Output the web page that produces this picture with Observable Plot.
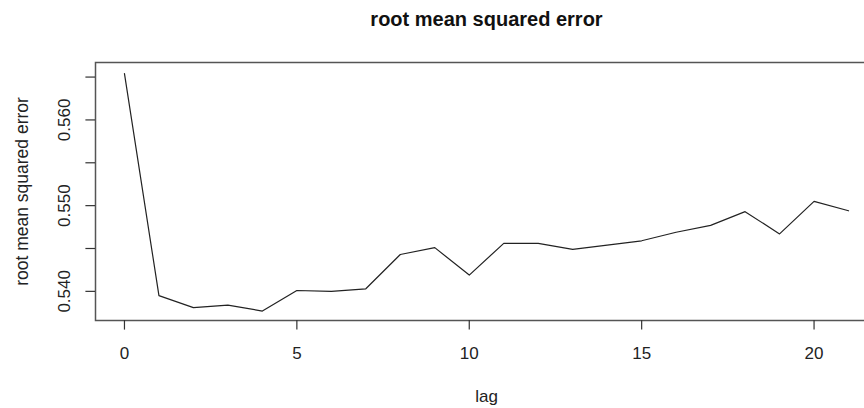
<!DOCTYPE html>
<html>
<head>
<meta charset="utf-8">
<script src="https://cdn.jsdelivr.net/npm/d3@7"></script>
<script src="https://cdn.jsdelivr.net/npm/@observablehq/plot@0.6"></script>
<style>
  html, body { margin: 0; padding: 0; background: #fff; overflow: hidden; width: 864px; height: 408px; }
  #chart { width: 864px; height: 408px; overflow: hidden; }
  #chart svg { display: block; max-width: none !important; width: 880px !important; height: 408px !important; }
</style>
</head>
<body>
<div id="chart"></div>
<script>
const title = "root mean squared error";
const xLabel = "lag";
const yLabel = "root mean squared error";
const lags = [0, 1, 2, 3, 4, 5, 6, 7, 8, 9, 10, 11, 12, 13, 14, 15, 16, 17, 18, 19, 20, 21];
const rmse = [0.5654, 0.5395, 0.5381, 0.5384, 0.5377, 0.5401, 0.5400, 0.5403, 0.5443, 0.5451, 0.5419,
              0.5456, 0.5456, 0.5449, 0.5454, 0.5459, 0.5469, 0.5477, 0.5493, 0.5467, 0.5505, 0.5494];
const xTicks = [0, 5, 10, 15, 20];
const yTicks = [0.540, 0.545, 0.550, 0.555, 0.560, 0.565];
const yTickLabels = [0.540, 0.550, 0.560];

const data = lags.map((lag, i) => ({lag, rmse: rmse[i]}));
const font = "Liberation Sans, Arial, Helvetica, sans-serif";
const ink = "#222";

const chart = Plot.plot({
  width: 880,
  height: 408,
  marginLeft: 95,
  marginRight: 3,
  marginTop: 62,
  marginBottom: 88,
  style: {fontFamily: font, fontSize: "17px", color: ink, background: "#fff", maxWidth: "none"},
  x: {domain: [-0.84, 21.84], label: null},
  y: {domain: [0.5366, 0.5667], label: null},
  marks: [
    Plot.frame({stroke: "#555", strokeWidth: 1.5}),
    Plot.line(data, {x: "lag", y: "rmse", stroke: ink, strokeWidth: 1.2}),
    Plot.axisX(xTicks, {tickSize: 9.6, tickFormat: () => "", label: null, stroke: "#333", strokeWidth: 1.2}),
    Plot.axisY(yTicks, {tickSize: 9.6, tickFormat: () => "", label: null, stroke: "#333", strokeWidth: 1.2}),
    Plot.text(xTicks, {x: d => d, frameAnchor: "bottom", textAnchor: "middle", lineAnchor: "middle", dy: 33.5, text: d => String(d), fill: ink, fontSize: 17}),
    Plot.text(yTickLabels, {y: d => d, frameAnchor: "left", textAnchor: "middle", lineAnchor: "middle", dx: -30.5, rotate: -90, text: d => d3.format(".3f")(d), fill: ink, fontSize: 17}),
    Plot.text([yLabel], {frameAnchor: "left", textAnchor: "middle", lineAnchor: "middle", dx: -73, rotate: -90, fill: ink, fontSize: 17.5}),
    Plot.text([xLabel], {frameAnchor: "bottom", textAnchor: "middle", lineAnchor: "middle", dy: 76.5, fill: ink, fontSize: 17}),
    Plot.text([title], {frameAnchor: "top", textAnchor: "middle", lineAnchor: "middle", dy: -43, fill: "#111", fontSize: 20, fontWeight: "bold", letterSpacing: "1.2px"})
  ]
});
document.getElementById("chart").appendChild(chart);
</script>
</body>
</html>
